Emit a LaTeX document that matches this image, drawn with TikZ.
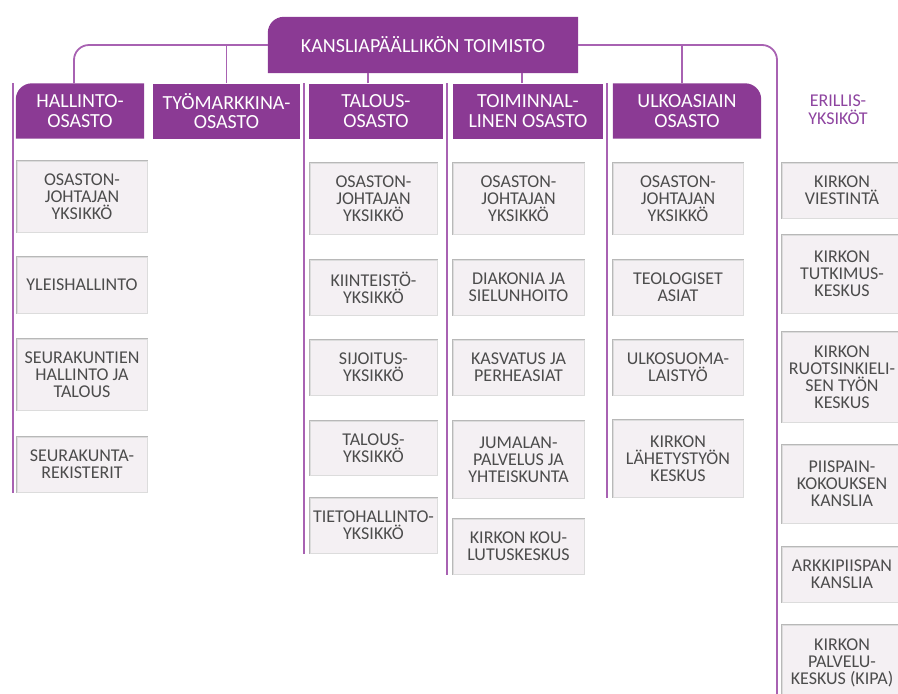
\documentclass[tikz,border=0pt]{standalone}
\usepackage{fontspec}
\setmainfont{Carlito}
\usetikzlibrary{backgrounds}
\definecolor{hdr}{HTML}{8B3A94}
\definecolor{conn}{HTML}{A862B2}
\definecolor{erl}{HTML}{8E44A0}
\definecolor{boxfill}{HTML}{F4F0F3}
\definecolor{boxedge}{HTML}{DCDCDC}
\definecolor{boxedgeD}{HTML}{B8B8B8}
\definecolor{txt}{HTML}{4C4C4C}
\begin{document}
\begin{tikzpicture}[x=1pt,y=-1pt,
  hdrbox/.style={inner sep=0pt, text=white, align=center, font=\fontsize{20}{19.5}\selectfont},
  hdrsq/.style={hdrbox, fill=hdr},
  unit/.style={inner sep=0pt, fill=boxfill, draw=boxedge, line width=1pt, align=center, text=txt, font=\fontsize{18}{17}\selectfont},
  link/.style={draw=conn, line width=1.8pt},
  shade/.style={draw=boxedgeD, line width=1.2pt}]
\useasboundingbox (0,0) rectangle (898,694);
\clip (0,0) rectangle (898,694);
% top office
\node[hdrbox, minimum width=310pt, minimum height=56pt] (top) at (423,45) {KANSLIAPÄÄLLIKÖN TOIMISTO};
% departments
\node[hdrbox, minimum width=128pt, minimum height=55pt] (hal) at (80,111) {HALLINTO-\\OSASTO};
\node[hdrsq, minimum width=147pt, minimum height=55pt] (tyo) at (226.5,111) {TYÖMARKKINA-\\OSASTO};
\node[hdrsq, minimum width=134pt, minimum height=55pt] (tal) at (376,111) {TALOUS-\\OSASTO};
\node[hdrsq, minimum width=150pt, minimum height=55pt] (toi) at (528,111) {TOIMINNAL-\\LINEN OSASTO};
\node[hdrbox, minimum width=148pt, minimum height=55pt] (ulk) at (687,111) {ULKOASIAIN\\OSASTO};
\node[font=\fontsize{18}{18}\selectfont, text=erl, align=center, inner sep=0pt] (eri) at (838,110) {ERILLIS-\\YKSIKÖT};
\begin{scope}[on background layer]
  \fill[hdr] (top.south west) [rounded corners=16pt] -- (top.north west) [sharp corners] -- (top.north east) -- (top.south east) -- cycle;
  \fill[hdr] (hal.south west) [rounded corners=16pt] -- (hal.north west) [sharp corners] -- (hal.north east) -- (hal.south east) -- cycle;
  \fill[hdr] (ulk.south west) -- (ulk.north west) [rounded corners=16pt] -- (ulk.north east) [sharp corners] -- (ulk.south east) -- cycle;
\end{scope}
% HALLINTO units
\node[unit, minimum width=130pt, minimum height=71pt] (h1) at (82,196.5) {OSASTON-\\JOHTAJAN\\YKSIKKÖ};
\node[unit, minimum width=130pt, minimum height=56pt] (h2) at (82,285) {YLEISHALLINTO};
\node[unit, minimum width=130pt, minimum height=71pt] (h3) at (82,374.5) {SEURAKUNTIEN\\HALLINTO JA\\TALOUS};
\node[unit, minimum width=130pt, minimum height=55pt] (h4) at (82,464.5) {SEURAKUNTA-\\REKISTERIT};
% TALOUS units
\node[unit, minimum width=127pt, minimum height=71pt] (t1) at (373.5,198.5) {OSASTON-\\JOHTAJAN\\YKSIKKÖ};
\node[unit, minimum width=127pt, minimum height=55pt] (t2) at (373.5,287.5) {KIINTEISTÖ-\\YKSIKKÖ};
\node[unit, minimum width=127pt, minimum height=55pt] (t3) at (373.5,367.5) {SIJOITUS-\\YKSIKKÖ};
\node[unit, minimum width=127pt, minimum height=54pt] (t4) at (373.5,448) {TALOUS-\\YKSIKKÖ};
\node[unit, minimum width=127pt, minimum height=55pt] (t5) at (373.5,525.5) {TIETOHALLINTO-\\YKSIKKÖ};
% TOIMINNALLINEN units
\node[unit, minimum width=131pt, minimum height=71pt] (o1) at (518.5,198.5) {OSASTON-\\JOHTAJAN\\YKSIKKÖ};
\node[unit, minimum width=131pt, minimum height=55pt] (o2) at (518.5,287.5) {DIAKONIA JA\\SIELUNHOITO};
\node[unit, minimum width=131pt, minimum height=55pt] (o3) at (518.5,367.5) {KASVATUS JA\\PERHEASIAT};
\node[unit, minimum width=131pt, minimum height=77pt] (o4) at (518.5,459.5) {JUMALAN-\\PALVELUS JA\\YHTEISKUNTA};
\node[unit, minimum width=131pt, minimum height=55pt] (o5) at (518.5,546.5) {KIRKON KOU-\\LUTUSKESKUS};
% ULKOASIAIN units
\node[unit, minimum width=130pt, minimum height=71pt] (u1) at (678,198.5) {OSASTON-\\JOHTAJAN\\YKSIKKÖ};
\node[unit, minimum width=130pt, minimum height=55pt] (u2) at (678,287.5) {TEOLOGISET\\ASIAT};
\node[unit, minimum width=130pt, minimum height=55pt] (u3) at (678,367.5) {ULKOSUOMA-\\LAISTYÖ};
\node[unit, minimum width=130pt, minimum height=77pt] (u4) at (678,458.5) {KIRKON\\LÄHETYSTYÖN\\KESKUS};
% ERILLISYKSIKÖT units
\node[unit, minimum width=120pt, minimum height=55pt] (e1) at (842,190.5) {KIRKON\\VIESTINTÄ};
\node[unit, minimum width=120pt, minimum height=78pt] (e2) at (842,274) {KIRKON\\TUTKIMUS-\\KESKUS};
\node[unit, minimum width=120pt, minimum height=90pt] (e3) at (842,377) {KIRKON\\RUOTSINKIELI-\\SEN TYÖN\\KESKUS};
\node[unit, minimum width=120pt, minimum height=78pt] (e4) at (842,484) {PIISPAIN-\\KOKOUKSEN\\KANSLIA};
\node[unit, minimum width=120pt, minimum height=55pt] (e5) at (842,574.5) {ARKKIPIISPAN\\KANSLIA};
\node[unit, minimum width=120pt, minimum height=76pt] (e6) at (842,663) {KIRKON\\PALVELU-\\KESKUS (KIPA)};
\foreach \n in {h1,h2,h3,h4,t1,t2,t3,t4,t5,o1,o2,o3,o4,o5,u1,u2,u3,u4,e1,e2,e3,e4,e5,e6}
  \draw[shade] (\n.south west) -- (\n.north west) -- (\n.north east);
% connectors
\coordinate (eribot) at (777,700);
\draw[link] ([xshift=-6pt]hal.north) [rounded corners=15pt] |- (top.west);
\draw[link] (top.east) [rounded corners=15pt] -| (eribot);
\draw[link] (tyo.north) -- (tyo.north |- top.west);
\draw[link] ([xshift=-8pt]tal.north) -- ([xshift=-8pt]tal.north |- top.south);
\draw[link] ([xshift=-6pt]toi.north) -- ([xshift=-6pt]toi.north |- top.south);
\draw[link] ([xshift=-5pt]ulk.north) -- ([xshift=-5pt]ulk.north |- top.east);
% column lines
\draw[link] ([xshift=-3pt]hal.north west) -- ([xshift=-3pt]hal.north west |- h4.south);
\draw[link] ([xshift=-5pt]tal.north west) -- ([xshift=-5pt]tal.north west |- t5.south);
\draw[link] ([xshift=-6pt]toi.north west) -- ([xshift=-6pt]toi.north west |- o5.south);
\draw[link] ([xshift=-6pt]ulk.north west) -- ([xshift=-6pt]ulk.north west |- u4.south);
\end{tikzpicture}
\end{document}
